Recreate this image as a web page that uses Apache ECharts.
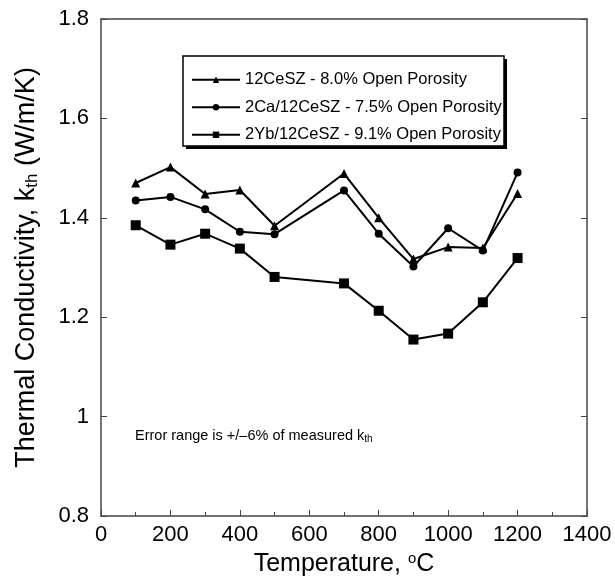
<!DOCTYPE html>
<html><head><meta charset="utf-8">
<script src="https://cdn.jsdelivr.net/npm/echarts@6/dist/echarts.min.js"></script>
<style>html,body{margin:0;padding:0;background:#fff}#c{width:615px;height:585px}</style>
</head><body><div id="c"></div>
<script>
var temps = [100, 200, 300, 400, 500, 700, 800, 900, 1000, 1100, 1200];
var ceszVals = [1.470, 1.502, 1.448, 1.456, 1.384, 1.489, 1.400, 1.317, 1.341, 1.339, 1.449];
var caVals   = [1.435, 1.442, 1.417, 1.372, 1.367, 1.455, 1.368, 1.302, 1.379, 1.334, 1.491];
var ybVals   = [1.385, 1.346, 1.368, 1.338, 1.281, 1.268, 1.213, 1.155, 1.167, 1.230, 1.319];
var seriesNames = ['12CeSZ - 8.0% Open Porosity', '2Ca/12CeSZ - 7.5% Open Porosity', '2Yb/12CeSZ - 9.1% Open Porosity'];

function pairs(v){ return temps.map(function(t,i){ return [t, v[i]]; }); }
var font = 'Liberation Sans, Arial, sans-serif';
var chart = echarts.init(document.getElementById('c'));
function mk(name, vals, sym, size){
  return {name:name, type:'line', data:pairs(vals), symbol:sym, symbolSize:size,
    lineStyle:{color:'#000', width:2}, itemStyle:{color:'#000'}, animation:false, z:5};
}
var frame = {color:'#444', width:1.5};
chart.setOption({
  animation:false,
  grid:{left:101, top:19, right:28, bottom:69, show:false},
  graphic:[
    {type:'rect', shape:{x:186, y:59, width:321, height:90}, style:{fill:'#000'}, z:10},
    {type:'rect', shape:{x:183, y:56, width:321, height:90}, style:{fill:'#fff', stroke:'#000', lineWidth:1.5}, z:11},
    {type:'text', left:135, top:428, z:12, style:{
      text:'Error range is +/\u20136% of measured k{sub|th}', font:'14.5px '+font, fill:'#000',
      rich:{sub:{fontSize:10, verticalAlign:'bottom', padding:[7,0,0,0], fontFamily:font}}
    }}
  ],
  legend:{orient:'vertical', left:186, top:61, itemWidth:48, itemHeight:8, itemGap:0, z:20,
    textStyle:{fontFamily:font, fontSize:16.5, color:'#000', lineHeight:27.5}, data:seriesNames, selectedMode:false},
  xAxis:[{type:'value', min:0, max:1400, interval:200, position:'bottom',
    name:'Temperature, {sup|o}C', nameLocation:'middle', nameGap:34,
    nameTextStyle:{fontFamily:font, fontSize:25, color:'#000', rich:{sup:{fontSize:15, verticalAlign:'top', padding:[0,0,12,0], fontFamily:font}}},
    axisLine:{show:true, onZero:false, lineStyle:frame},
    axisTick:{show:true, inside:true, length:6, lineStyle:{color:'#444'}},
    minorTick:{show:true, splitNumber:2, length:4, lineStyle:{color:'#444'}},
    axisLabel:{fontFamily:font, fontSize:22, color:'#000', margin:8, formatter:function(v){return String(v);}},
    splitLine:{show:false}},
   {type:'value', min:0, max:1400, interval:200, position:'top',
    axisLine:{show:true, onZero:false, lineStyle:frame},
    axisTick:{show:false}, axisLabel:{show:false}, splitLine:{show:false}}],
  yAxis:[{type:'value', min:0.8, max:1.8, interval:0.2, position:'left',
    name:'Thermal Conductivity, k{sub|th} (W/m/K)', nameLocation:'middle', nameGap:60,
    nameTextStyle:{fontFamily:font, fontSize:27, color:'#000', rich:{sub:{fontSize:17, verticalAlign:'bottom', padding:[11,0,0,0], fontFamily:font}}},
    axisLine:{show:true, onZero:false, lineStyle:frame},
    axisTick:{show:true, inside:true, length:6, lineStyle:{color:'#444'}},
    axisLabel:{fontFamily:font, fontSize:22, color:'#000', margin:12},
    splitLine:{show:false}},
   {type:'value', min:0.8, max:1.8, interval:0.2, position:'right',
    axisLine:{show:true, onZero:false, lineStyle:frame},
    axisTick:{show:true, inside:true, length:6, lineStyle:{color:'#444'}},
    axisLabel:{show:false}, splitLine:{show:false}}],
  series:[
    mk(seriesNames[0], ceszVals, 'triangle', 9),
    mk(seriesNames[1], caVals, 'circle', 8),
    mk(seriesNames[2], ybVals, 'rect', 10)
  ]
});
</script></body></html>
